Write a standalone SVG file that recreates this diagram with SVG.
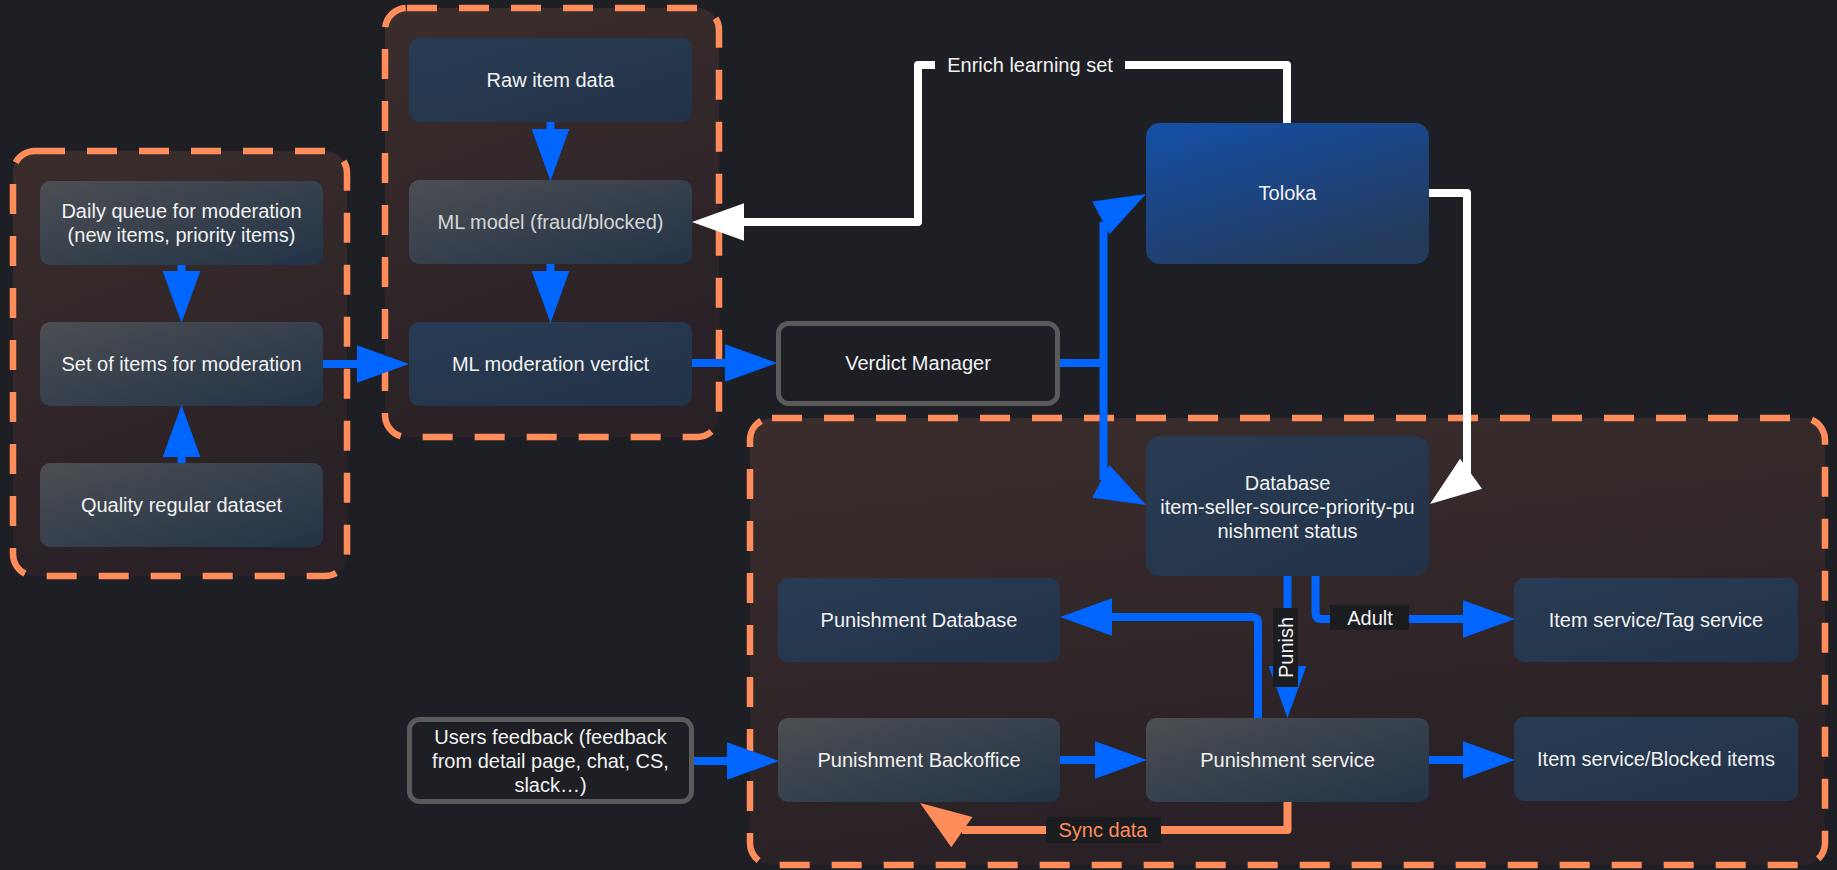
<svg xmlns="http://www.w3.org/2000/svg" xmlns:xlink="http://www.w3.org/1999/xlink" width="1837" height="870" viewBox="0 0 1837 870">
  <style>
    .grp { stroke: #ff8c5b; stroke-width: 6.5; stroke-dasharray: 30 22; fill: url(#gGroup); }
    .node { stroke: none; }
    .gray { fill: url(#gGray); }
    .navy { fill: url(#gNavy); }
    .blue { fill: url(#gBlue); }
    .outline { fill: #1e1f24; stroke: #5a5a5a; stroke-width: 5; }
    text { font-family: "Liberation Sans", Arial, sans-serif; font-size: 20px; fill: #f2f2f2; text-anchor: middle; dominant-baseline: central; }
    .dim { fill: #d6d6d6; }
    .lb { fill: #1b1c20; }
    .lbPage { fill: #1e1f24; }
    .cB { fill: none; stroke: #0066ff; stroke-width: 8; }
    .cW { fill: none; stroke: #ffffff; stroke-width: 8; stroke-linejoin: round; }
    .cO { fill: none; stroke: #ff8c5b; stroke-width: 8; stroke-linejoin: round; }
    .orange { fill: #ff8c5b; }
  </style>
  <defs>
    <linearGradient id="gGroup" x1="0" y1="0" x2="0.3" y2="1">
      <stop offset="0" stop-color="#3b2d2c"/>
      <stop offset="1" stop-color="#292126"/>
    </linearGradient>
    <linearGradient id="gGray" x1="0" y1="0" x2="1" y2="1">
      <stop offset="0" stop-color="#4c4e52"/>
      <stop offset="1" stop-color="#223347"/>
    </linearGradient>
    <linearGradient id="gNavy" x1="0" y1="0" x2="1" y2="1">
      <stop offset="0" stop-color="#293b52"/>
      <stop offset="1" stop-color="#223349"/>
    </linearGradient>
    <linearGradient id="gBlue" x1="0" y1="0" x2="0.6" y2="1">
      <stop offset="0" stop-color="#1450a8"/>
      <stop offset="1" stop-color="#243a5c"/>
    </linearGradient>
    <marker id="mB" markerUnits="userSpaceOnUse" markerWidth="52" markerHeight="38" viewBox="0 0 51 37" refX="0" refY="18.5" orient="auto">
      <path d="M0,0 L51,18.5 L0,37 z" fill="#0066ff"/>
    </marker>
    <marker id="mW" markerUnits="userSpaceOnUse" markerWidth="52" markerHeight="38" viewBox="0 0 51 37" refX="0" refY="18.5" orient="auto">
      <path d="M0,0 L51,18.5 L0,37 z" fill="#ffffff"/>
    </marker>
    <!-- free arrowheads, tip at origin pointing along +x -->
    <path id="hB" d="M0,0 L-51,-18.5 L-51,18.5 z" fill="#0066ff"/>
    <path id="hW" d="M0,0 L-51,-18.5 L-51,18.5 z" fill="#ffffff"/>
    <path id="hO" d="M0,0 L-51,-18.5 L-51,18.5 z" fill="#ff8c5b"/>
  </defs>

  <rect x="0" y="0" width="1837" height="870" fill="#1e1f24"/>

  <!-- dashed containers -->
  <g id="group-intake">
    <rect class="grp" x="13" y="151" width="334" height="425" rx="22"/>
  </g>
  <g id="group-ml">
    <rect class="grp" x="385" y="8" width="334" height="429" rx="22"/>
  </g>
  <g id="group-punishment">
    <rect class="grp" x="750" y="418" width="1075" height="447" rx="22"/>
  </g>

  <!-- nodes -->
  <g id="daily-queue">
    <rect class="node gray" x="40" y="181" width="283" height="84" rx="10"/>
    <text x="181.5" y="211">Daily queue for moderation</text>
    <text x="181.5" y="235">(new items, priority items)</text>
  </g>
  <g id="set-of-items">
    <rect class="node gray" x="40" y="322" width="283" height="84" rx="10"/>
    <text x="181.5" y="364">Set of items for moderation</text>
  </g>
  <g id="quality-dataset">
    <rect class="node gray" x="40" y="463" width="283" height="84" rx="10"/>
    <text x="181.5" y="505">Quality regular dataset</text>
  </g>
  <g id="raw-item-data">
    <rect class="node navy" x="409" y="38" width="283" height="84" rx="10"/>
    <text x="550.5" y="80">Raw item data</text>
  </g>
  <g id="ml-model">
    <rect class="node gray" x="409" y="180" width="283" height="84" rx="10"/>
    <text class="dim" x="550.5" y="222">ML model (fraud/blocked)</text>
  </g>
  <g id="ml-verdict">
    <rect class="node navy" x="409" y="322" width="283" height="84" rx="10"/>
    <text x="550.5" y="364">ML moderation verdict</text>
  </g>
  <g id="verdict-manager">
    <rect class="outline" x="778.5" y="323.5" width="279" height="80" rx="10"/>
    <text x="918" y="363">Verdict Manager</text>
  </g>
  <g id="toloka">
    <rect class="node blue" x="1146" y="123" width="283" height="141" rx="14"/>
    <text x="1287.5" y="193">Toloka</text>
  </g>
  <g id="database">
    <rect class="node navy" x="1146" y="436" width="283" height="140" rx="14"/>
    <text x="1287.5" y="483">Database</text>
    <text x="1287.5" y="507">item-seller-source-priority-pu</text>
    <text x="1287.5" y="531">nishment status</text>
  </g>
  <g id="punishment-database">
    <rect class="node navy" x="778" y="578" width="282" height="84" rx="10"/>
    <text x="919" y="620">Punishment Database</text>
  </g>
  <g id="tag-service">
    <rect class="node navy" x="1514" y="578" width="284" height="84" rx="10"/>
    <text x="1656" y="620">Item service/Tag service</text>
  </g>
  <g id="users-feedback">
    <rect class="outline" x="409.5" y="719.5" width="282" height="82" rx="10"/>
    <text x="550.5" y="737">Users feedback (feedback</text>
    <text x="550.5" y="761">from detail page, chat, CS,</text>
    <text x="550.5" y="785">slack…)</text>
  </g>
  <g id="punishment-backoffice">
    <rect class="node gray" x="778" y="718" width="282" height="84" rx="10"/>
    <text x="919" y="760">Punishment Backoffice</text>
  </g>
  <g id="punishment-service">
    <rect class="node gray" x="1146" y="718" width="283" height="84" rx="10"/>
    <text x="1287.5" y="760">Punishment service</text>
  </g>
  <g id="blocked-items">
    <rect class="node navy" x="1514" y="717" width="284" height="84" rx="10"/>
    <text x="1656" y="759">Item service/Blocked items</text>
  </g>

  <!-- connectors -->
  <g id="connectors">
    <path class="cB" d="M181.5,265 V271" marker-end="url(#mB)"/>
    <path class="cB" d="M181.5,463 V457" marker-end="url(#mB)"/>
    <path class="cB" d="M323,364 H357" marker-end="url(#mB)"/>
    <path class="cB" d="M550.5,122 V129" marker-end="url(#mB)"/>
    <path class="cB" d="M550.5,264 V271" marker-end="url(#mB)"/>
    <path class="cB" d="M692,363 H725" marker-end="url(#mB)"/>

    <!-- verdict manager fan-out -->
    <path class="cB" d="M1060,363 H1103.5"/>
    <path class="cB" d="M1103.5,222 V480"/>
    <use xlink:href="#hB" transform="translate(1146,194) rotate(-27.8)"/>
    <use xlink:href="#hB" transform="translate(1146,505) rotate(27.6)"/>

    <!-- enrich learning set -->
    <path class="cW" d="M1287,123 V65 H918 V222 H744" marker-end="url(#mW)"/>
    <rect class="lbPage" x="935" y="52" width="190" height="27"/>
    <text x="1030" y="65">Enrich learning set</text>

    <!-- toloka to database -->
    <path class="cW" d="M1429,193 H1467 V476"/>
    <use xlink:href="#hW" transform="translate(1430,504) rotate(143.6)"/>

    <!-- database outputs -->
    <path class="cB" d="M1287.5,576 V666" marker-end="url(#mB)"/>
    <path class="cB" d="M1315.5,576 V613 Q1315.5,619 1321.5,619 H1463" marker-end="url(#mB)"/>
    <path class="cB" d="M1258,718 V623 Q1258,617 1252,617 H1112" marker-end="url(#mB)"/>

    <rect class="lb" x="1273" y="608" width="25" height="79"/>
    <text transform="translate(1286,647.5) rotate(-90)" x="0" y="0">Punish</text>
    <rect class="lb" x="1330" y="605" width="79" height="25"/>
    <text x="1370" y="618">Adult</text>

    <!-- feedback / backoffice / service row -->
    <path class="cB" d="M694,761 H727" marker-end="url(#mB)"/>
    <path class="cB" d="M1060,760 H1095" marker-end="url(#mB)"/>
    <path class="cB" d="M1429,760 H1463" marker-end="url(#mB)"/>

    <!-- sync data -->
    <path class="cO" d="M1287.5,802 V830 H962"/>
    <use xlink:href="#hO" transform="translate(920,803) rotate(-145.1)"/>
    <rect class="lb" x="1046" y="817" width="115" height="26"/>
    <text class="orange" x="1103" y="830">Sync data</text>
  </g>
</svg>
